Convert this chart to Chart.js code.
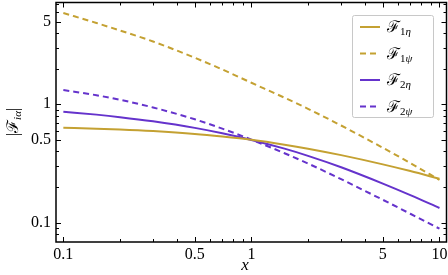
<!DOCTYPE html>
<html>
<head>
<meta charset="utf-8">
<script src="https://cdn.jsdelivr.net/npm/chart.js@4.4.0/dist/chart.umd.min.js"></script>
<style>
  html, body { margin: 0; padding: 0; background: #fff; }
  #wrap { width: 448px; height: 275px; }
</style>
</head>
<body>
<div id="wrap"><canvas id="chart"></canvas></div>
<script>
/* ========== Data ========== */
const xVals = [0.1, 0.15, 0.2, 0.3, 0.5, 0.7, 1, 1.5, 2, 3, 5, 7, 10];
const f1eta = [0.634, 0.623, 0.613, 0.594, 0.562, 0.534, 0.501, 0.456, 0.422, 0.372, 0.311, 0.273, 0.235];
const f1psi = [5.9, 4.86, 4.2, 3.39, 2.47, 1.97, 1.52, 1.136, 0.916, 0.662, 0.429, 0.319, 0.23];
const f2eta = [0.866, 0.818, 0.779, 0.718, 0.632, 0.569, 0.5, 0.422, 0.367, 0.294, 0.214, 0.171, 0.133];
const f2psi = [1.32, 1.193, 1.092, 0.94, 0.747, 0.623, 0.503, 0.386, 0.316, 0.233, 0.156, 0.119, 0.089];
const xLabels = [0.1, 0.5, 1, 5, 10];
const yLabels = [0.1, 0.5, 1, 5];

const GOLD = '#c4a132';
const PURPLE = '#6533cc';
const SERIF = '"Liberation Serif", "DejaVu Serif", serif';

const pts = ys => xVals.map((x, i) => ({ x, y: ys[i] }));
const isLabel = (v, list) => list.some(l => Math.abs(v - l) < l * 1e-6);
const isNice = v => {
  const p = Math.pow(10, Math.floor(Math.log10(v) + 1e-9));
  const s = v / p;
  return Math.abs(s - Math.round(s)) < 1e-6;
};

const series = [
  { label: ['1', 'η'], data: f1eta, color: GOLD, dash: [] },
  { label: ['1', 'ψ'], data: f1psi, color: GOLD, dash: [6, 4] },
  { label: ['2', 'η'], data: f2eta, color: PURPLE, dash: [] },
  { label: ['2', 'ψ'], data: f2psi, color: PURPLE, dash: [6, 4] }
];

/* draw a row of text pieces: [text, font, dy] */
function drawPieces(ctx, pieces, x, y, center) {
  let w = 0;
  pieces.forEach(p => { ctx.font = p[1]; w += ctx.measureText(p[0]).width; });
  let cx = center ? x - w / 2 : x;
  pieces.forEach(p => {
    ctx.font = p[1];
    ctx.fillText(p[0], cx, y + (p[2] || 0));
    cx += ctx.measureText(p[0]).width;
  });
}

const script = '16px "DejaVu Serif", serif';
const subUp = '11px ' + SERIF;
const subIt = 'italic 11px ' + SERIF;

/* ========== Frame, inward ticks, legend, axis titles ========== */
const decor = {
  id: 'decor',
  afterDraw(chart) {
    const { ctx, chartArea: a, scales } = chart;
    ctx.save();
    ctx.strokeStyle = '#000';
    ctx.lineWidth = 1;
    scales.x.ticks.forEach(t => {
      if (!isNice(t.value)) return;
      const px = Math.round(scales.x.getPixelForValue(t.value)) + 0.5;
      const len = isLabel(t.value, xLabels) ? 5 : 3;
      ctx.beginPath();
      ctx.moveTo(px, a.bottom); ctx.lineTo(px, a.bottom - len);
      ctx.moveTo(px, a.top); ctx.lineTo(px, a.top + len);
      ctx.stroke();
    });
    scales.y.ticks.forEach(t => {
      if (!isNice(t.value)) return;
      const py = Math.round(scales.y.getPixelForValue(t.value)) + 0.5;
      const len = isLabel(t.value, yLabels) ? 5 : 3;
      ctx.beginPath();
      ctx.moveTo(a.left, py); ctx.lineTo(a.left + len, py);
      ctx.moveTo(a.right, py); ctx.lineTo(a.right - len, py);
      ctx.stroke();
    });
    ctx.lineWidth = 1.5;
    ctx.strokeRect(a.left, a.top, a.right - a.left, a.bottom - a.top);

    // legend
    ctx.fillStyle = '#fff';
    ctx.strokeStyle = '#c8c8c8';
    ctx.lineWidth = 1;
    ctx.beginPath();
    ctx.roundRect(352.5, 15.5, 81, 102, 2);
    ctx.fill(); ctx.stroke();
    ctx.textBaseline = 'alphabetic';
    series.forEach((s, i) => {
      const y = 27 + i * 26.5;
      ctx.strokeStyle = s.color;
      ctx.lineWidth = 2;
      ctx.setLineDash(s.dash);
      ctx.beginPath();
      ctx.moveTo(360, y); ctx.lineTo(380, y);
      ctx.stroke();
      ctx.setLineDash([]);
      ctx.fillStyle = '#000';
      drawPieces(ctx, [['ℱ', script, 0], [s.label[0], subUp, 3], [s.label[1], subIt, 3]], 387, y + 5, false);
    });

    // axis titles
    ctx.fillStyle = '#000';
    ctx.textBaseline = 'alphabetic';
    ctx.textAlign = 'left';
    drawPieces(ctx, [['x', 'italic 17px ' + SERIF, 0]], 245, 270, true);
    ctx.translate(18, 122);
    ctx.rotate(-Math.PI / 2);
    drawPieces(ctx, [['|', '16px ' + SERIF, 0], ['ℱ', script, 0], ['iα', subIt, 3], ['|', '16px ' + SERIF, 0]], 0, 0, true);
    ctx.restore();
  }
};

const noPad = s => { s.paddingTop = 0; s.paddingBottom = 0; s.paddingLeft = 0; s.paddingRight = 0; };

/* ========== Chart ========== */
new Chart(document.getElementById('chart'), {
  type: 'line',
  data: {
    datasets: series.map(s => ({
      data: pts(s.data),
      borderColor: s.color,
      borderWidth: 2,
      borderDash: s.dash,
      pointRadius: 0,
      cubicInterpolationMode: 'monotone',
      fill: false
    }))
  },
  options: {
    responsive: true,
    maintainAspectRatio: false,
    animation: false,
    layout: { padding: { top: 2.5, right: 1.5, left: 0, bottom: 0 } },
    plugins: { legend: { display: false }, tooltip: { enabled: false } },
    scales: {
      x: {
        type: 'logarithmic',
        min: 0.0914,
        max: 10.9,
        grid: { display: false, drawTicks: false },
        border: { display: false },
        ticks: {
          autoSkip: false, maxRotation: 0, padding: 3,
          color: '#000', font: { family: SERIF, size: 16 },
          callback: v => isLabel(v, xLabels) ? String(v) : ''
        },
        afterFit: s => { s.height = 33; noPad(s); }
      },
      y: {
        type: 'logarithmic',
        min: 0.0687,
        max: 7.24,
        grid: { display: false, drawTicks: false },
        border: { display: false },
        ticks: {
          autoSkip: false, padding: 5,
          color: '#000', font: { family: SERIF, size: 16 },
          callback: v => isLabel(v, yLabels) ? String(v) : ''
        },
        afterFit: s => { s.width = 56; noPad(s); }
      }
    }
  },
  plugins: [decor]
});
</script>
</body>
</html>
